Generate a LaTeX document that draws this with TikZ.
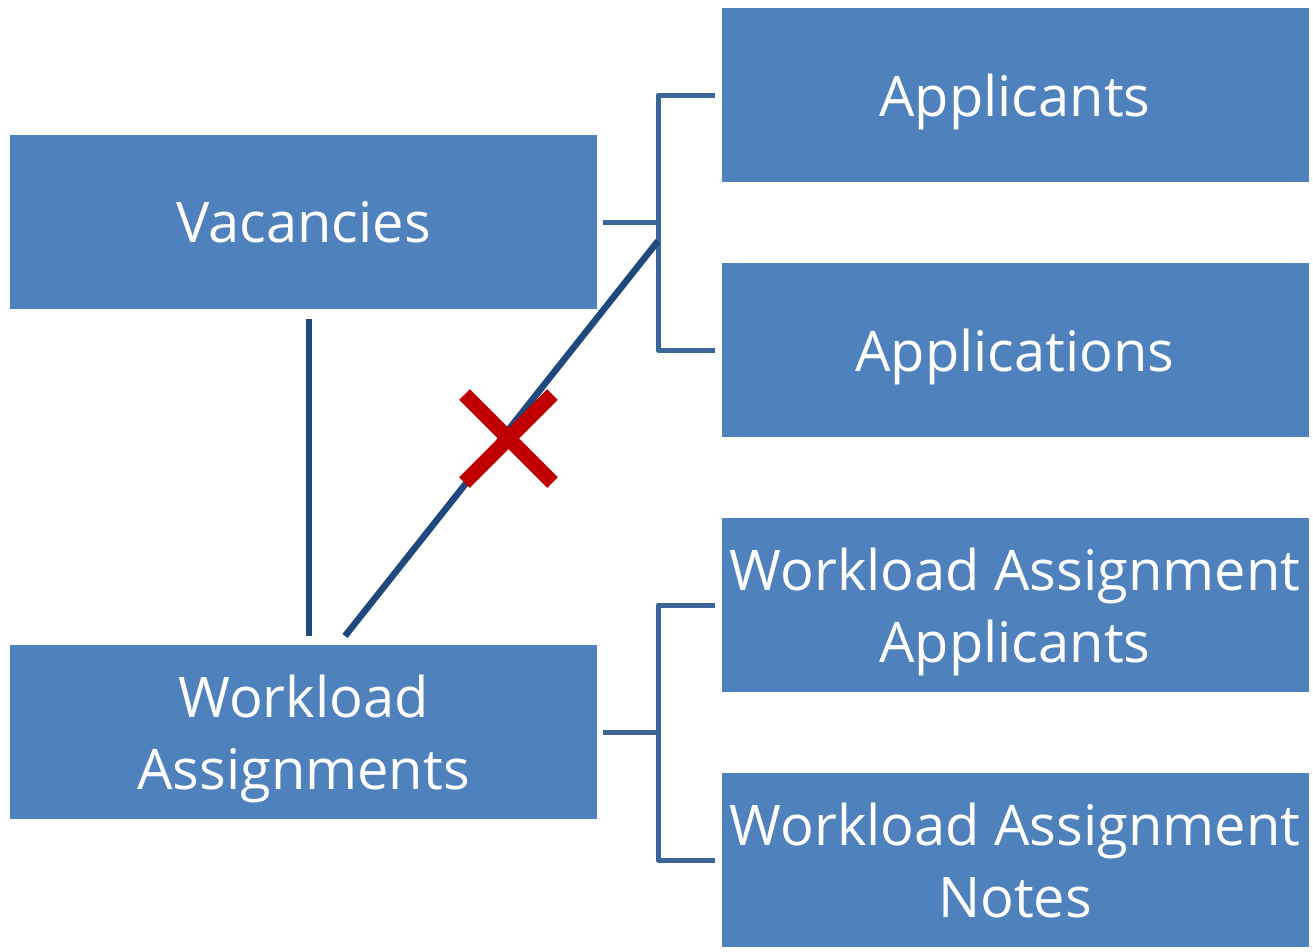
\documentclass[tikz,border=0pt]{standalone}
\usepackage{fontspec}
\setmainfont{Open Sans}
\definecolor{boxblue}{HTML}{4F81BD}
\definecolor{brk}{HTML}{3C6697}
\definecolor{dark}{HTML}{1F497D}
\definecolor{xred}{HTML}{C00000}
\begin{document}
\begin{tikzpicture}[x=1pt,y=-1pt,
  entity/.style={fill=boxblue,draw=none,text=white,align=center,inner sep=0pt,
    minimum width=587pt,minimum height=174pt,text depth=0pt,
    font=\fontsize{56}{72}\selectfont},
  bracket/.style={draw=brk,line width=5pt,line join=round},
  link/.style={draw=dark,line width=6.5pt},
  cross/.style={draw=xred,line width=15pt}]
\useasboundingbox (0,0) rectangle (1313,951);
\node[entity] (vac) at (303.5,222) {Vacancies};
\node[entity] (wa) at (303.5,732) {Workload\\Assignments};
\node[entity] (app) at (1015,95) {Applicants};
\node[entity] (apps) at (1015,350) {Applications};
\node[entity] (waa) at (1015,605) {Workload Assignment\\Applicants};
\node[entity] (wan) at (1015,860) {Workload Assignment\\Notes};
\coordinate (b1) at (658,222);
\coordinate (b2) at (658,732);
\draw[bracket] ([xshift=6pt]vac.east) -- (b1);
\draw[bracket] ([xshift=-6pt]app.west) -- (app.west -| b1) -- (apps.west -| b1) -- ([xshift=-6pt]apps.west);
\draw[bracket] ([xshift=6pt]wa.east) -- (b2);
\draw[bracket] ([xshift=-6pt]waa.west) -- (waa.west -| b2) -- (wan.west -| b2) -- ([xshift=-6pt]wan.west);
\draw[link] ([xshift=5.5pt,yshift=-10pt]vac.south) -- ([xshift=5.5pt,yshift=9pt]wa.north);
\coordinate (d1) at (345,636);
\coordinate (d2) at (658,241);
\draw[link] (d1) -- (d2);
\coordinate (xc) at (508.5,438.5);
\draw[cross] ([shift={(-44pt,-44pt)}]xc) -- ([shift={(44pt,44pt)}]xc);
\draw[cross] ([shift={(44pt,-44pt)}]xc) -- ([shift={(-44pt,44pt)}]xc);
\end{tikzpicture}
\end{document}
